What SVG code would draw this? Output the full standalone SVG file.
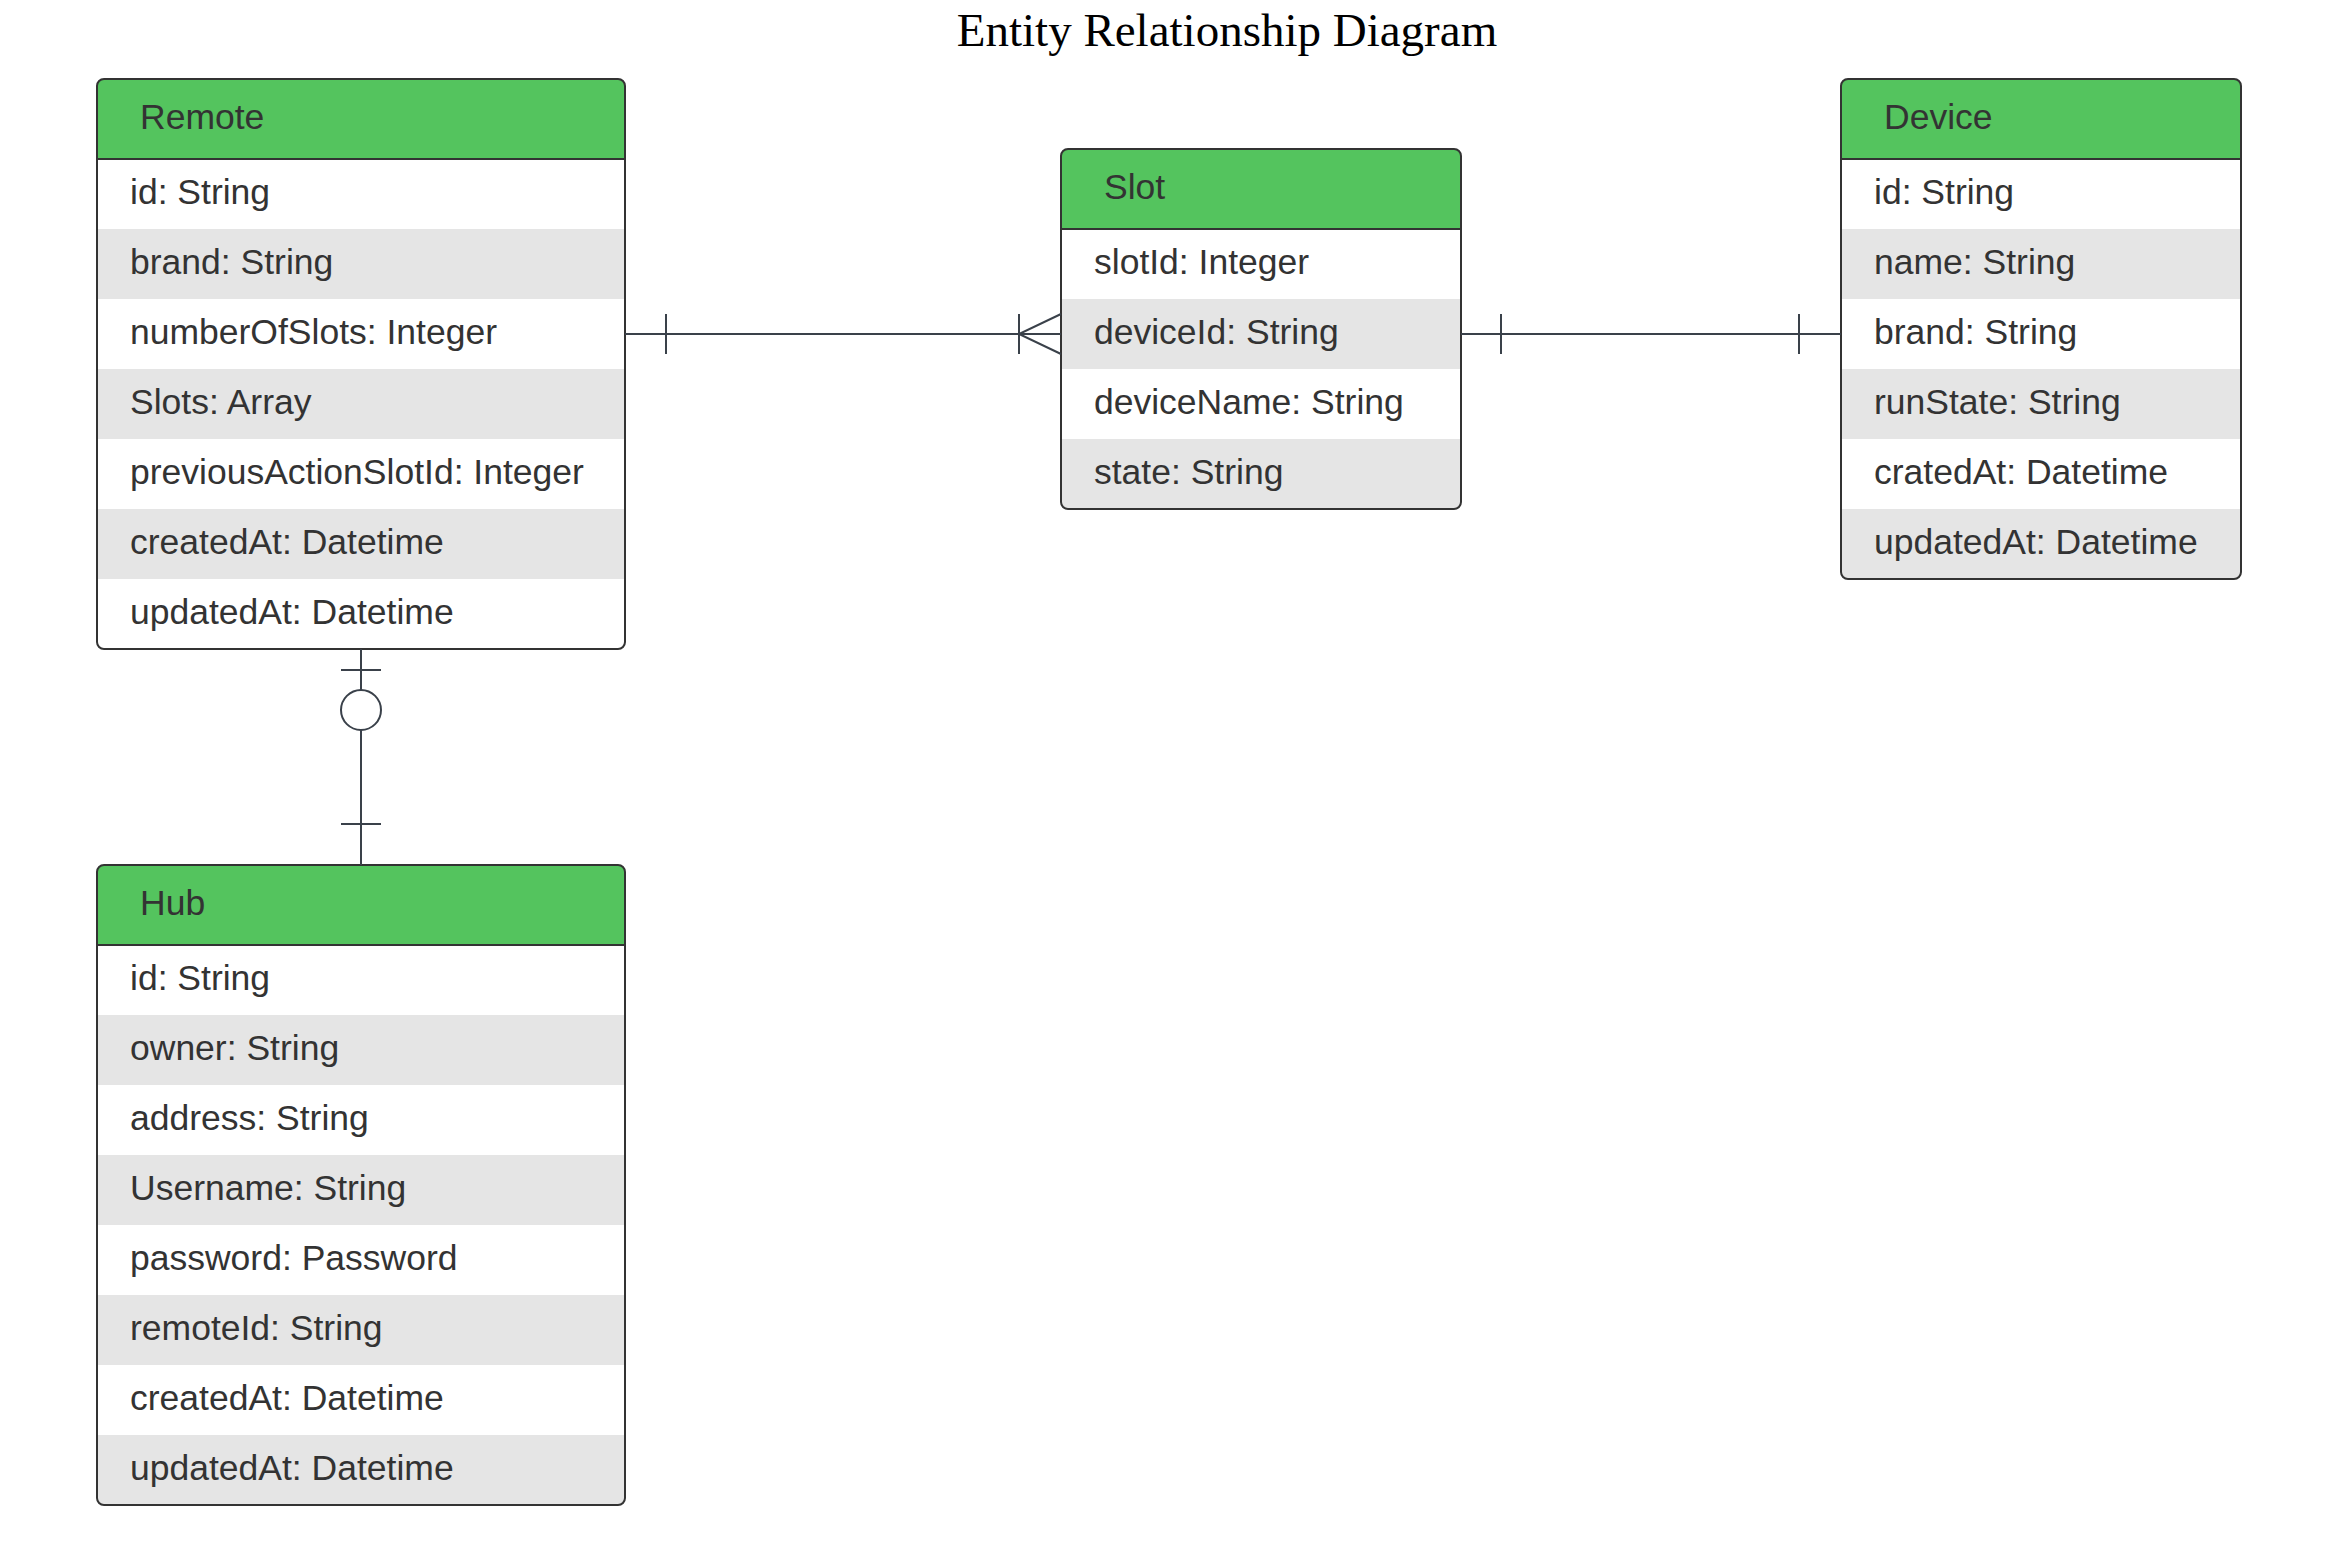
<svg xmlns="http://www.w3.org/2000/svg" width="2347" height="1558" viewBox="0 0 2347 1558">
<style>
.title{font-family:"Liberation Serif","Times New Roman",serif;font-size:47px;fill:#000}
.hd{fill:#54C45E}
.w{fill:#FFFFFF}
.g{fill:#E5E5E5}
.t{font-family:"Liberation Sans",Arial,sans-serif;font-size:35.5px;fill:#333333}
.box{fill:none;stroke:#333333;stroke-width:2}
.sep{stroke:#333333;stroke-width:2}
.cn{fill:none;stroke:#3A414A;stroke-width:2}
</style>
<defs>
<clipPath id="cRemote"><rect x="97" y="79" width="528" height="570" rx="7"/></clipPath>
<clipPath id="cHub"><rect x="97" y="865" width="528" height="640" rx="7"/></clipPath>
<clipPath id="cSlot"><rect x="1061" y="149" width="400" height="360" rx="7"/></clipPath>
<clipPath id="cDevice"><rect x="1841" y="79" width="400" height="500" rx="7"/></clipPath>
</defs>
<rect width="2347" height="1558" fill="#FFFFFF"/>
<text class="title" x="1227" y="46" text-anchor="middle">Entity Relationship Diagram</text>

<g id="Remote">
<g clip-path="url(#cRemote)">
<rect class="hd" x="97" y="79" width="528" height="80"/>
<rect class="w" x="97" y="159" width="528" height="70"/>
<rect class="g" x="97" y="229" width="528" height="70"/>
<rect class="w" x="97" y="299" width="528" height="70"/>
<rect class="g" x="97" y="369" width="528" height="70"/>
<rect class="w" x="97" y="439" width="528" height="70"/>
<rect class="g" x="97" y="509" width="528" height="70"/>
<rect class="w" x="97" y="579" width="528" height="70"/>
</g>
<line class="sep" x1="97" y1="159" x2="625" y2="159"/>
<rect class="box" x="97" y="79" width="528" height="570" rx="7"/>
<text class="t" x="140" y="129">Remote</text>
<text class="t" x="130" y="204">id: String</text>
<text class="t" x="130" y="274">brand: String</text>
<text class="t" x="130" y="344">numberOfSlots: Integer</text>
<text class="t" x="130" y="414">Slots: Array</text>
<text class="t" x="130" y="484">previousActionSlotId: Integer</text>
<text class="t" x="130" y="554">createdAt: Datetime</text>
<text class="t" x="130" y="624">updatedAt: Datetime</text>
</g>

<g id="Hub">
<g clip-path="url(#cHub)">
<rect class="hd" x="97" y="865" width="528" height="80"/>
<rect class="w" x="97" y="945" width="528" height="70"/>
<rect class="g" x="97" y="1015" width="528" height="70"/>
<rect class="w" x="97" y="1085" width="528" height="70"/>
<rect class="g" x="97" y="1155" width="528" height="70"/>
<rect class="w" x="97" y="1225" width="528" height="70"/>
<rect class="g" x="97" y="1295" width="528" height="70"/>
<rect class="w" x="97" y="1365" width="528" height="70"/>
<rect class="g" x="97" y="1435" width="528" height="70"/>
</g>
<line class="sep" x1="97" y1="945" x2="625" y2="945"/>
<rect class="box" x="97" y="865" width="528" height="640" rx="7"/>
<text class="t" x="140" y="915">Hub</text>
<text class="t" x="130" y="990">id: String</text>
<text class="t" x="130" y="1060">owner: String</text>
<text class="t" x="130" y="1130">address: String</text>
<text class="t" x="130" y="1200">Username: String</text>
<text class="t" x="130" y="1270">password: Password</text>
<text class="t" x="130" y="1340">remoteId: String</text>
<text class="t" x="130" y="1410">createdAt: Datetime</text>
<text class="t" x="130" y="1480">updatedAt: Datetime</text>
</g>

<g id="Slot">
<g clip-path="url(#cSlot)">
<rect class="hd" x="1061" y="149" width="400" height="80"/>
<rect class="w" x="1061" y="229" width="400" height="70"/>
<rect class="g" x="1061" y="299" width="400" height="70"/>
<rect class="w" x="1061" y="369" width="400" height="70"/>
<rect class="g" x="1061" y="439" width="400" height="70"/>
</g>
<line class="sep" x1="1061" y1="229" x2="1461" y2="229"/>
<rect class="box" x="1061" y="149" width="400" height="360" rx="7"/>
<text class="t" x="1104" y="199">Slot</text>
<text class="t" x="1094" y="274">slotId: Integer</text>
<text class="t" x="1094" y="344">deviceId: String</text>
<text class="t" x="1094" y="414">deviceName: String</text>
<text class="t" x="1094" y="484">state: String</text>
</g>

<g id="Device">
<g clip-path="url(#cDevice)">
<rect class="hd" x="1841" y="79" width="400" height="80"/>
<rect class="w" x="1841" y="159" width="400" height="70"/>
<rect class="g" x="1841" y="229" width="400" height="70"/>
<rect class="w" x="1841" y="299" width="400" height="70"/>
<rect class="g" x="1841" y="369" width="400" height="70"/>
<rect class="w" x="1841" y="439" width="400" height="70"/>
<rect class="g" x="1841" y="509" width="400" height="70"/>
</g>
<line class="sep" x1="1841" y1="159" x2="2241" y2="159"/>
<rect class="box" x="1841" y="79" width="400" height="500" rx="7"/>
<text class="t" x="1884" y="129">Device</text>
<text class="t" x="1874" y="204">id: String</text>
<text class="t" x="1874" y="274">name: String</text>
<text class="t" x="1874" y="344">brand: String</text>
<text class="t" x="1874" y="414">runState: String</text>
<text class="t" x="1874" y="484">cratedAt: Datetime</text>
<text class="t" x="1874" y="554">updatedAt: Datetime</text>
</g>

<g id="connectors">
<line class="cn" x1="625" y1="334" x2="1061" y2="334"/>
<line class="cn" x1="666" y1="314" x2="666" y2="354"/>
<line class="cn" x1="1019" y1="314" x2="1019" y2="354"/>
<polyline class="cn" points="1061,314 1019,334 1061,354"/>
<line class="cn" x1="1461" y1="334" x2="1841" y2="334"/>
<line class="cn" x1="1501" y1="314" x2="1501" y2="354"/>
<line class="cn" x1="1799" y1="314" x2="1799" y2="354"/>
<line class="cn" x1="361" y1="649" x2="361" y2="690"/>
<line class="cn" x1="341" y1="670" x2="381" y2="670"/>
<circle class="cn" cx="361" cy="710" r="20"/>
<line class="cn" x1="361" y1="730" x2="361" y2="865"/>
<line class="cn" x1="341" y1="824" x2="381" y2="824"/>
</g>
</svg>
